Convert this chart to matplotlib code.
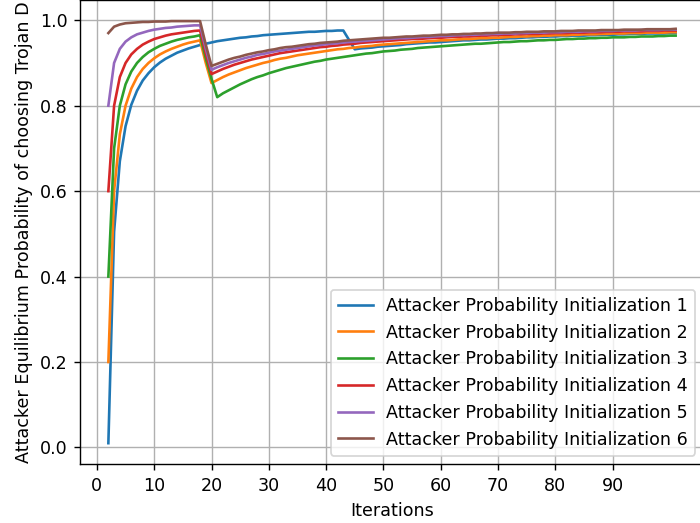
import numpy as np
import matplotlib
matplotlib.use("Agg")
from matplotlib import pyplot as plt

# iterations 2..101 (one value per iteration)
iterations = np.arange(2, 102)

init_1 = [0.010, 0.505, 0.670, 0.752, 0.802, 0.835, 0.859, 0.876, 0.890, 0.901,
          0.910, 0.917, 0.924, 0.929, 0.934, 0.938, 0.942, 0.945, 0.948, 0.951,
          0.953, 0.955, 0.957, 0.959, 0.960, 0.962, 0.963, 0.965, 0.966, 0.967,
          0.968, 0.969, 0.970, 0.971, 0.972, 0.973, 0.973, 0.974, 0.975, 0.975,
          0.976, 0.976, 0.954, 0.932, 0.934, 0.935, 0.936, 0.938, 0.939, 0.940,
          0.941, 0.942, 0.944, 0.945, 0.946, 0.947, 0.948, 0.948, 0.949, 0.950,
          0.951, 0.952, 0.953, 0.953, 0.954, 0.955, 0.955, 0.956, 0.957, 0.957,
          0.958, 0.958, 0.959, 0.960, 0.960, 0.961, 0.961, 0.962, 0.962, 0.963,
          0.963, 0.964, 0.964, 0.964, 0.965, 0.965, 0.966, 0.966, 0.966, 0.967,
          0.967, 0.968, 0.968, 0.968, 0.969, 0.969, 0.969, 0.969, 0.970, 0.970]

init_2 = [0.200, 0.600, 0.733, 0.800, 0.840, 0.867, 0.886, 0.900, 0.911, 0.920,
          0.927, 0.933, 0.938, 0.943, 0.947, 0.950, 0.953, 0.900, 0.853, 0.860,
          0.867, 0.873, 0.878, 0.883, 0.888, 0.892, 0.896, 0.900, 0.903, 0.907,
          0.910, 0.912, 0.915, 0.918, 0.920, 0.922, 0.924, 0.926, 0.928, 0.930,
          0.932, 0.933, 0.935, 0.936, 0.938, 0.939, 0.940, 0.942, 0.943, 0.944,
          0.945, 0.946, 0.947, 0.948, 0.949, 0.950, 0.951, 0.952, 0.953, 0.953,
          0.954, 0.955, 0.956, 0.956, 0.957, 0.958, 0.958, 0.959, 0.959, 0.960,
          0.961, 0.961, 0.962, 0.962, 0.963, 0.963, 0.964, 0.964, 0.965, 0.965,
          0.965, 0.966, 0.966, 0.967, 0.967, 0.967, 0.968, 0.968, 0.969, 0.969,
          0.969, 0.970, 0.970, 0.970, 0.971, 0.971, 0.971, 0.971, 0.972, 0.972]

init_3 = [0.400, 0.700, 0.800, 0.850, 0.880, 0.900, 0.914, 0.925, 0.933, 0.940,
          0.945, 0.950, 0.954, 0.957, 0.960, 0.962, 0.965, 0.911, 0.863, 0.820,
          0.829, 0.836, 0.843, 0.850, 0.856, 0.862, 0.867, 0.871, 0.876, 0.880,
          0.884, 0.888, 0.891, 0.894, 0.897, 0.900, 0.903, 0.905, 0.908, 0.910,
          0.912, 0.914, 0.916, 0.918, 0.920, 0.922, 0.923, 0.925, 0.927, 0.928,
          0.929, 0.931, 0.932, 0.933, 0.935, 0.936, 0.937, 0.938, 0.939, 0.940,
          0.941, 0.942, 0.943, 0.944, 0.945, 0.945, 0.946, 0.947, 0.948, 0.949,
          0.949, 0.950, 0.951, 0.951, 0.952, 0.953, 0.953, 0.954, 0.954, 0.955,
          0.956, 0.956, 0.957, 0.957, 0.958, 0.958, 0.959, 0.959, 0.960, 0.960,
          0.960, 0.961, 0.961, 0.962, 0.962, 0.962, 0.963, 0.963, 0.964, 0.964]

init_4 = [0.600, 0.800, 0.867, 0.900, 0.920, 0.933, 0.943, 0.950, 0.956, 0.960,
          0.964, 0.967, 0.969, 0.971, 0.973, 0.975, 0.976, 0.922, 0.874, 0.880,
          0.886, 0.891, 0.896, 0.900, 0.904, 0.908, 0.911, 0.914, 0.917, 0.920,
          0.923, 0.925, 0.927, 0.929, 0.931, 0.933, 0.935, 0.937, 0.938, 0.940,
          0.941, 0.943, 0.944, 0.945, 0.947, 0.948, 0.949, 0.950, 0.951, 0.952,
          0.953, 0.954, 0.955, 0.956, 0.956, 0.957, 0.958, 0.959, 0.959, 0.960,
          0.961, 0.961, 0.962, 0.962, 0.963, 0.964, 0.964, 0.965, 0.965, 0.966,
          0.966, 0.967, 0.967, 0.968, 0.968, 0.968, 0.969, 0.969, 0.970, 0.970,
          0.970, 0.971, 0.971, 0.971, 0.972, 0.972, 0.972, 0.973, 0.973, 0.973,
          0.974, 0.974, 0.974, 0.974, 0.975, 0.975, 0.975, 0.976, 0.976, 0.976]

init_5 = [0.800, 0.900, 0.933, 0.950, 0.960, 0.967, 0.971, 0.975, 0.978, 0.980,
          0.982, 0.983, 0.985, 0.986, 0.987, 0.988, 0.988, 0.933, 0.884, 0.890,
          0.895, 0.900, 0.904, 0.908, 0.912, 0.915, 0.919, 0.921, 0.924, 0.927,
          0.929, 0.931, 0.933, 0.935, 0.937, 0.939, 0.941, 0.942, 0.944, 0.945,
          0.946, 0.948, 0.949, 0.950, 0.951, 0.952, 0.953, 0.954, 0.955, 0.956,
          0.957, 0.958, 0.958, 0.959, 0.960, 0.961, 0.961, 0.962, 0.963, 0.963,
          0.964, 0.965, 0.965, 0.966, 0.966, 0.967, 0.967, 0.968, 0.968, 0.969,
          0.969, 0.969, 0.970, 0.970, 0.971, 0.971, 0.971, 0.972, 0.972, 0.972,
          0.973, 0.973, 0.973, 0.974, 0.974, 0.974, 0.975, 0.975, 0.975, 0.976,
          0.976, 0.976, 0.976, 0.977, 0.977, 0.977, 0.977, 0.978, 0.978, 0.978]

init_6 = [0.970, 0.985, 0.990, 0.993, 0.994, 0.995, 0.996, 0.996, 0.997, 0.997,
          0.997, 0.998, 0.998, 0.998, 0.998, 0.998, 0.998, 0.943, 0.893, 0.898,
          0.903, 0.908, 0.912, 0.915, 0.919, 0.922, 0.925, 0.927, 0.930, 0.932,
          0.935, 0.937, 0.938, 0.940, 0.942, 0.944, 0.945, 0.947, 0.948, 0.949,
          0.950, 0.952, 0.953, 0.954, 0.955, 0.956, 0.957, 0.958, 0.959, 0.959,
          0.960, 0.961, 0.962, 0.962, 0.963, 0.964, 0.964, 0.965, 0.966, 0.966,
          0.967, 0.967, 0.968, 0.968, 0.969, 0.969, 0.970, 0.970, 0.971, 0.971,
          0.971, 0.972, 0.972, 0.973, 0.973, 0.973, 0.974, 0.974, 0.974, 0.975,
          0.975, 0.975, 0.976, 0.976, 0.976, 0.976, 0.977, 0.977, 0.977, 0.977,
          0.978, 0.978, 0.978, 0.978, 0.979, 0.979, 0.979, 0.979, 0.979, 0.980]

all_inits = [init_1, init_2, init_3, init_4, init_5, init_6]

fig = plt.figure(figsize=(700 / 126, 523 / 126), dpi=126)
# axes run a little past the right edge, like the original
ax = fig.add_axes([80 / 700, 58.7 / 523, 624 / 700, 464.3 / 523])
for i, probs in enumerate(all_inits):
    ax.plot(iterations, probs, label=f"Attacker Probability Initialization {i + 1}")

ax.set_xticks(np.arange(0, 100, 10))
ax.grid(True)
ax.set_xlabel("Iterations")
ax.set_ylabel("Attacker Equilibrium Probability of choosing Trojan D")
ax.legend(loc="lower right")
fig.savefig("out.png")
